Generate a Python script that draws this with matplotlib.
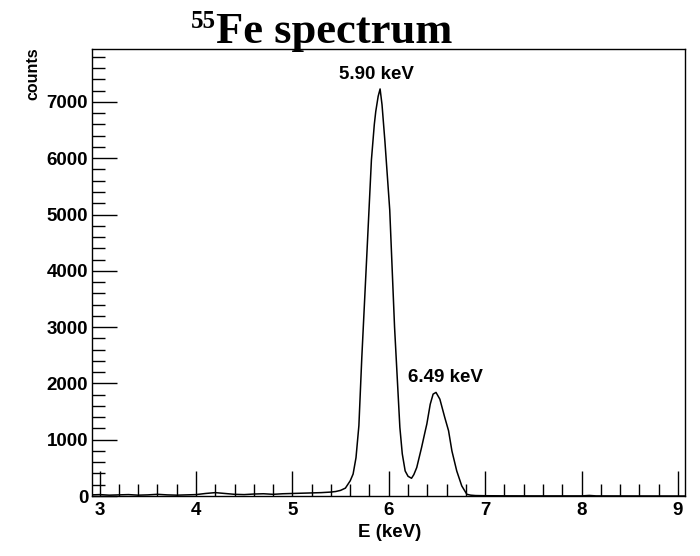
from matplotlib import pyplot as plt
from matplotlib.ticker import MultipleLocator

# spectrum (keV, counts)
energy = [2.92, 3.0, 3.1, 3.2, 3.3, 3.4, 3.5, 3.6, 3.7, 3.8, 3.9, 4.0, 4.1, 4.2, 4.3,
          4.4, 4.5, 4.6, 4.7, 4.8, 4.9, 5.0, 5.1, 5.2, 5.3, 5.4, 5.45, 5.5, 5.55, 5.6,
          5.63, 5.66, 5.69, 5.72, 5.77, 5.82, 5.85, 5.865, 5.89, 5.91, 5.93, 5.96,
          6.01, 6.06, 6.115, 6.14, 6.17, 6.2, 6.236, 6.26, 6.29, 6.34, 6.375, 6.395,
          6.43, 6.46, 6.49, 6.53, 6.58, 6.62, 6.655, 6.705, 6.757, 6.81, 6.85, 6.9,
          7.0, 7.2, 7.5, 8.0, 8.08, 8.15, 8.5, 9.0, 9.08]
counts = [20, 25, 15, 20, 25, 15, 20, 30, 20, 15, 20, 25, 45, 60, 45,
          30, 25, 35, 40, 30, 40, 45, 50, 55, 60, 70, 80, 100, 140, 270,
          390, 680, 1250, 2450, 4200, 5970, 6600, 6830, 7100, 7230, 6950, 6300,
          5080, 3000, 1220, 750, 445, 350, 315, 380, 505, 860, 1130, 1280,
          1630, 1810, 1840, 1720, 1400, 1160, 800, 445, 180, 30, 15, 8,
          5, 3, 2, 2, 10, 2, 1, 0, 0]

peak_labels = ["5.90 keV", "6.49 keV"]
peak_pos = [(5.87, 7330), (6.59, 1960)]

fig = plt.figure(figsize=(7, 5.56), dpi=100)
ax = fig.add_axes([0.1319, 0.1079, 0.8467, 0.804])

ax.plot(energy, counts, color='black', lw=1.1)

ax.set_xlim(2.925, 9.073)
ax.set_ylim(0, 7940)
ax.xaxis.set_major_locator(MultipleLocator(1))
ax.xaxis.set_minor_locator(MultipleLocator(0.2))
ax.yaxis.set_major_locator(MultipleLocator(1000))
ax.yaxis.set_minor_locator(MultipleLocator(200))
ax.tick_params(which='both', direction='in', top=False, right=False, color='black')
ax.tick_params(which='major', length=18, width=1)
ax.tick_params(which='minor', length=9, width=1)
ax.tick_params(axis='x', which='major', pad=4)
ax.tick_params(axis='y', which='major', pad=3)
for lab in ax.get_xticklabels() + ax.get_yticklabels():
    lab.set_fontfamily('Liberation Sans')
    lab.set_fontweight('bold')
    lab.set_fontsize(13.5)
for s in ax.spines.values():
    s.set_linewidth(1.0)

for txt, (x, y) in zip(peak_labels, peak_pos):
    ax.text(x, y, txt, ha='center', va='bottom', family='Liberation Sans',
            fontweight='bold', fontsize=13.5)

fig.text(0.556, 0.0414, "E (keV)", ha='center', va='center', family='Liberation Sans',
         fontweight='bold', fontsize=13.5)
fig.text(0.047, 0.915, "counts", ha='center', va='top', rotation=90,
         family='Liberation Sans', fontweight='bold', fontsize=11.5)

# title: superscript mass number + element/word
fig.text(216 / 700, 1 - 42.7 / 556, "Fe spectrum", ha='left', va='baseline',
         family='Liberation Serif', fontweight='bold', fontsize=32)
fig.text(216 / 700, 1 - 28 / 556, "55", ha='right', va='baseline',
         family='Liberation Serif', fontweight='bold', fontsize=18)

plt.savefig("out.png", dpi=100)
